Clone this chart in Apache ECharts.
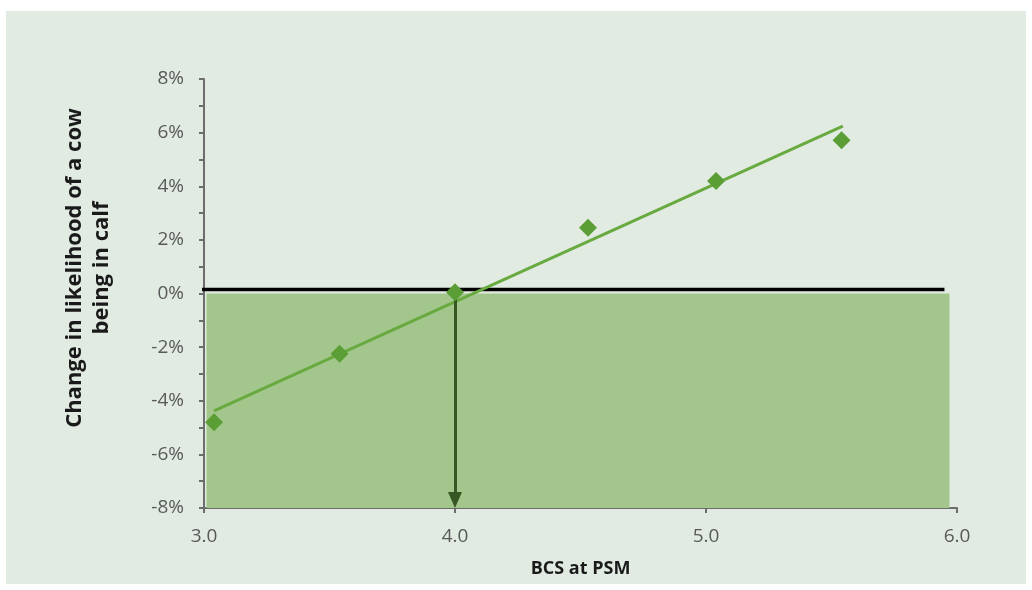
<!DOCTYPE html>
<html>
<head>
<meta charset="utf-8">
<script src="https://cdn.jsdelivr.net/npm/echarts@6/dist/echarts.min.js"></script>
<style>
  html, body { margin: 0; padding: 0; background: #ffffff; }
  #chart { position: absolute; left: 6px; top: 11px; width: 1020px; height: 573px; }
</style>
</head>
<body>
<div id="chart"></div>
<script>
// Body condition score at planned start of mating vs change in in-calf likelihood (%)
const bcs = [3.04, 3.54, 4.0, 4.53, 5.04, 5.54];
const change = [-4.8, -2.25, 0.05, 2.45, 4.2, 5.72];

// Linear trend line end points
const trendX = [3.04, 5.545];
const trendY = [-4.38, 6.24];

// Reference line near zero and the shaded "below zero" band
const zeroLineX = [2.96, 5.95];
const zeroLineY = [0.15, 0.15];
const bandX = [3.01, 5.97];
const bandY = [0, -8];

// Arrow from BCS 4.0 down to the axis
const arrowX = 4.0;
const arrowY = [0, -7.7];

const xTicks = { min: 3, max: 6, interval: 1 };
const yTicks = { min: -8, max: 8, interval: 2 };

const chart = echarts.init(document.getElementById('chart'), null, { renderer: 'canvas' });

const labelFont = '"Open Sans", "Liberation Sans", sans-serif';
const axisGrey = '#6d6d6d';

chart.setOption({
  backgroundColor: '#e1ebe2',
  animation: false,
  grid: { left: 198, right: 69, top: 68, bottom: 76, containLabel: false, outerBoundsMode: 'none' },
  xAxis: {
    type: 'value',
    min: xTicks.min, max: xTicks.max, interval: xTicks.interval,
    axisLine: { show: true, onZero: false, lineStyle: { color: axisGrey, width: 2 } },
    axisTick: { show: true, length: 5, lineStyle: { color: axisGrey, width: 2 } },
    splitLine: { show: false },
    axisLabel: {
      color: '#595959', fontSize: 19, fontFamily: labelFont, margin: 19,
      formatter: v => v.toFixed(1)
    },
    name: 'BCS at PSM',
    nameLocation: 'middle',
    nameGap: 52,
    nameTextStyle: { color: '#1a1a1a', fontSize: 18, fontWeight: 'bold', fontFamily: labelFont }
  },
  yAxis: {
    type: 'value',
    min: yTicks.min, max: yTicks.max, interval: yTicks.interval,
    axisLine: { show: true, onZero: false, lineStyle: { color: axisGrey, width: 2 } },
    axisTick: { show: true, length: 5, lineStyle: { color: axisGrey, width: 2 } },
    minorTick: { show: true, splitNumber: 2, length: 5, lineStyle: { color: axisGrey, width: 2 } },
    splitLine: { show: false },
    axisLabel: {
      color: '#595959', fontSize: 19, fontFamily: labelFont, margin: 20,
      formatter: '{value}%'
    }
  },
  graphic: [{
    type: 'text',
    x: 82, y: 257,
    rotation: Math.PI / 2,
    style: {
      text: 'Change in likelihood of a cow\nbeing in calf',
      fill: '#1a1a1a',
      font: 'bold 22px "Open Sans", "Liberation Sans", sans-serif',
      align: 'center',
      verticalAlign: 'middle',
      lineHeight: 27
    }
  }],
  series: [
    {
      // shaded band below zero
      type: 'line',
      data: [],
      z: 1,
      silent: true,
      markArea: {
        silent: true,
        itemStyle: { color: '#a3c68c' },
        data: [[{ coord: [bandX[0], bandY[0]] }, { coord: [bandX[1], bandY[1]] }]]
      }
    },
    {
      // horizontal zero reference line
      type: 'line',
      data: zeroLineX.map((x, i) => [x, zeroLineY[i]]),
      clip: false,
      z: 3,
      symbol: 'none',
      lineStyle: { color: '#000000', width: 3.5 },
      silent: true
    },
    {
      // linear trend
      type: 'line',
      data: trendX.map((x, i) => [x, trendY[i]]),
      z: 4,
      symbol: 'none',
      lineStyle: { color: '#69aa40', width: 3 },
      silent: true
    },
    {
      // observed points
      type: 'scatter',
      data: bcs.map((x, i) => [x, change[i]]),
      z: 5,
      symbol: 'diamond',
      symbolSize: 18,
      itemStyle: { color: '#5c9e36', opacity: 1 }
    },
    {
      // arrow down from BCS 4.0
      type: 'line',
      data: [],
      z: 6,
      markLine: {
        silent: true,
        symbol: ['none', 'triangle'],
        symbolSize: [14, 16],
        label: { show: false },
        lineStyle: { color: '#375623', width: 3, type: 'solid' },
        data: [[{ coord: [arrowX, arrowY[0]] }, { coord: [arrowX, arrowY[1]] }]]
      }
    }
  ]
});
</script>
</body>
</html>
